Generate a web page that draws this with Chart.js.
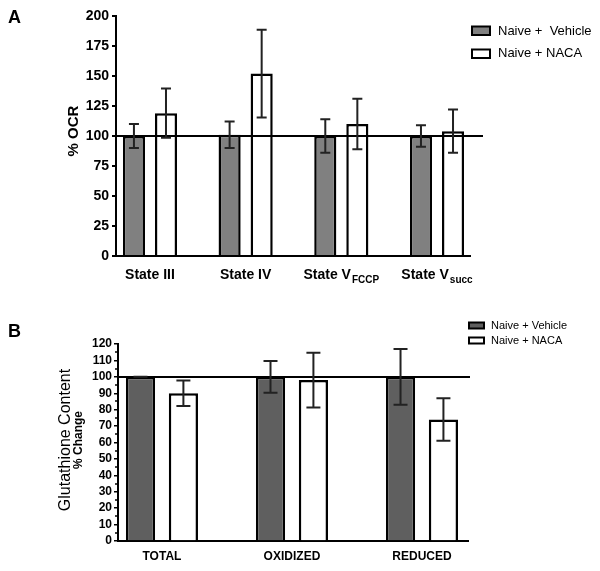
<!DOCTYPE html>
<html><head><meta charset="utf-8">
<script src="https://cdn.jsdelivr.net/npm/chart.js@4"></script>
<style>
html,body{margin:0;padding:0;background:#fff;}
#wrap{position:relative;width:600px;height:571px;background:#fff;}
canvas{position:absolute;left:0;}
#cA{top:0;} #cB{top:290px;}
</style></head><body>
<div id="wrap"><canvas id="cA" width="600" height="290"></canvas><canvas id="cB" width="600" height="281"></canvas></div>
<script>
// ---------- DATA ----------
const seriesNamesA = ['Naive +  Vehicle', 'Naive + NACA'];
const seriesNamesB = ['Naive + Vehicle', 'Naive + NACA'];

const categoriesA = ['State III', 'State IV', 'State V', 'State V'];
const subscriptsA = ['', '', 'FCCP', 'succ'];
const vehicleA = [100, 101, 100, 100];
const vehicleErrA = [10, 11, 14, 9];
const nacaA = [119, 152, 110, 104];
const nacaErrA = [20.5, 36.5, 21, 18];
const yTicksA = [0, 25, 50, 75, 100, 125, 150, 175, 200];

const categoriesB = ['TOTAL', 'OXIDIZED', 'REDUCED'];
const vehicleB = [100, 100, 100];
const vehicleErrB = [0, 9.7, 17];
const nacaB = [90, 98, 74];
const nacaErrB = [7.7, 16.7, 13];
const yTicksB = [0, 10, 20, 30, 40, 50, 60, 70, 80, 90, 100, 110, 120];
const yMinorTicksB = [5, 15, 25, 35, 45, 55, 65, 75, 85, 95, 105, 115];

const refValue = 100;

// ---------- HELPERS ----------
const FONT = '"Liberation Sans", Arial, Helvetica, sans-serif';
const toPts = arr => arr.map((v, i) => ({x: i, y: v}));

function drawRotated(ctx, text, x, y, font) {
  ctx.save();
  ctx.translate(x, y);
  ctx.rotate(-Math.PI / 2);
  ctx.font = font;
  ctx.textAlign = 'center';
  ctx.textBaseline = 'alphabetic';
  ctx.fillStyle = '#000';
  ctx.fillText(text, 0, 0);
  ctx.restore();
}

const customPlugin = {
  id: 'custom',
  afterDatasetsDraw(chart, args, o) {
    const ctx = chart.ctx;
    const ys = chart.scales.y;
    const ca = chart.chartArea;
    ctx.save();
    ctx.strokeStyle = '#000';
    ctx.lineWidth = 2;
    const ry = Math.round(ys.getPixelForValue(refValue));
    ctx.beginPath();
    ctx.moveTo(ca.left, ry);
    ctx.lineTo(o.refEnd, ry);
    ctx.stroke();
    ctx.strokeStyle = '#222';
    ctx.lineWidth = 2;
    chart.data.datasets.forEach((ds, di) => {
      const meta = chart.getDatasetMeta(di);
      meta.data.forEach((el, i) => {
        const v = ds.data[i].y, e = ds.errors[i];
        const yt = ys.getPixelForValue(v + e), yb = ys.getPixelForValue(v - e);
        ctx.beginPath();
        ctx.moveTo(el.x, yt); ctx.lineTo(el.x, yb);
        ctx.moveTo(el.x - o.cap, yt); ctx.lineTo(el.x + o.cap, yt);
        ctx.moveTo(el.x - o.cap, yb); ctx.lineTo(el.x + o.cap, yb);
        ctx.stroke();
      });
    });
    ctx.restore();
  },
  afterDraw(chart, args, o) {
    const ctx = chart.ctx;
    const xs = chart.scales.x, ys = chart.scales.y;
    ctx.save();
    ctx.fillStyle = '#000';
    ctx.font = 'bold 18px ' + FONT;
    ctx.textAlign = 'left';
    ctx.textBaseline = 'alphabetic';
    ctx.fillText(o.letter, o.letterX, o.letterY);
    if (o.minor) {
      ctx.strokeStyle = '#000';
      ctx.lineWidth = 1.5;
      o.minor.forEach(v => {
        const y = Math.round(ys.getPixelForValue(v));
        ctx.beginPath();
        ctx.moveTo(chart.chartArea.left - 3, y);
        ctx.lineTo(chart.chartArea.left, y);
        ctx.stroke();
      });
    }
    o.cats.forEach((c, i) => {
      const cx = xs.getPixelForValue(i);
      const sub = o.subs ? o.subs[i] : '';
      ctx.font = o.catFont;
      const w1 = ctx.measureText(c).width;
      let w2 = 0;
      if (sub) { ctx.font = o.subFont; w2 = ctx.measureText(sub).width + 1; }
      const sx = cx - (w1 + w2) / 2;
      ctx.font = o.catFont;
      ctx.textAlign = 'left';
      ctx.fillText(c, sx, o.catY);
      if (sub) { ctx.font = o.subFont; ctx.fillText(sub, sx + w1 + 1, o.catY + 4); }
    });
    o.titles.forEach(t => drawRotated(ctx, t.text, t.x, t.y, t.font));
    o.legend.forEach(l => {
      ctx.fillStyle = l.fill;
      ctx.fillRect(l.bx, l.by, l.bw, l.bh);
      ctx.strokeStyle = '#000';
      ctx.lineWidth = 2;
      ctx.strokeRect(l.bx, l.by, l.bw, l.bh);
      ctx.fillStyle = '#000';
      ctx.font = l.font;
      ctx.textAlign = 'left';
      ctx.fillText(l.text, l.tx, l.ty);
    });
    ctx.restore();
  }
};

function xScale(n, min, max, h) {
  return {
    type: 'linear', min: min, max: max, offset: false,
    afterBuildTicks(s) { s.ticks = Array.from({length: n}, (_, i) => ({value: i})); },
    grid: {display: false}, ticks: {display: false},
    border: {display: true, color: '#000', width: 2},
    afterFit(s) { s.height = h; }
  };
}

function yScale(ticks, size, width, pad, tlw) {
  return {
    min: ticks[0], max: ticks[ticks.length - 1],
    afterBuildTicks(s) { s.ticks = ticks.map(v => ({value: v})); },
    ticks: {font: {family: FONT, size: size, weight: 'bold'}, color: '#000', padding: pad, autoSkip: false},
    grid: {display: true, drawOnChartArea: false, drawTicks: true, tickLength: 4, color: '#000', lineWidth: tlw},
    border: {display: true, color: '#000', width: 2},
    afterFit(s) { s.width = width; }
  };
}

// ---------- CHART A ----------
new Chart(document.getElementById('cA'), {
  type: 'bar',
  data: {
    datasets: [
      {label: seriesNamesA[0], data: toPts(vehicleA), errors: vehicleErrA, backgroundColor: '#808080', borderColor: '#000', borderWidth: 2.5},
      {label: seriesNamesA[1], data: toPts(nacaA), errors: nacaErrA, backgroundColor: '#ffffff', borderColor: '#000', borderWidth: 2.5}
    ]
  },
  options: {
    responsive: false, animation: false, devicePixelRatio: 1,
    categoryPercentage: 0.67, barPercentage: 0.69,
    layout: {padding: {top: 16, right: 130, left: 0, bottom: 0}},
    scales: {
      x: xScale(categoriesA.length, -0.355, 3.345, 34),
      y: yScale(yTicksA, 14, 116, 3, 2)
    },
    plugins: {
      legend: {display: false}, tooltip: {enabled: false},
      custom: {
        refEnd: 483, cap: 5, letter: 'A', letterX: 8, letterY: 23,
        cats: categoriesA, subs: subscriptsA, catY: 279,
        catFont: 'bold 14px ' + FONT, subFont: 'bold 10px ' + FONT,
        titles: [{text: '% OCR', x: 78, y: 131, font: 'bold 15px ' + FONT}],
        legend: [
          {fill: '#808080', bx: 472, by: 26.5, bw: 18, bh: 8.5, text: seriesNamesA[0], tx: 498, ty: 35, font: '13px ' + FONT},
          {fill: '#ffffff', bx: 472, by: 49.5, bw: 18, bh: 8.5, text: seriesNamesA[1], tx: 498, ty: 57, font: '13px ' + FONT}
        ]
      }
    }
  },
  plugins: [customPlugin]
});

// ---------- CHART B ----------
new Chart(document.getElementById('cB'), {
  type: 'bar',
  data: {
    datasets: [
      {label: seriesNamesB[0], data: toPts(vehicleB), errors: vehicleErrB, backgroundColor: '#5f5f5f', borderColor: '#000', borderWidth: 2.5},
      {label: seriesNamesB[1], data: toPts(nacaB), errors: nacaErrB, backgroundColor: '#ffffff', borderColor: '#000', borderWidth: 2.5}
    ]
  },
  options: {
    responsive: false, animation: false, devicePixelRatio: 1,
    categoryPercentage: 0.66, barPercentage: 0.68,
    layout: {padding: {top: 54, right: 132, left: 0, bottom: 0}},
    scales: {
      x: xScale(categoriesB.length, -0.338, 2.354, 30),
      y: yScale(yTicksB, 12, 118, 2, 1.5)
    },
    plugins: {
      legend: {display: false}, tooltip: {enabled: false},
      custom: {
        refEnd: 470, cap: 7, letter: 'B', letterX: 8, letterY: 47,
        minor: yMinorTicksB,
        cats: categoriesB, subs: null, catY: 270,
        catFont: 'bold 12px ' + FONT, subFont: 'bold 10px ' + FONT,
        titles: [
          {text: 'Glutathione Content', x: 70, y: 150, font: '16px ' + FONT},
          {text: '% Change', x: 81.5, y: 150, font: 'bold 12px ' + FONT}
        ],
        legend: [
          {fill: '#5f5f5f', bx: 469, by: 32.5, bw: 15, bh: 6, text: seriesNamesB[0], tx: 491, ty: 39, font: '11px ' + FONT},
          {fill: '#ffffff', bx: 469, by: 47.5, bw: 15, bh: 6, text: seriesNamesB[1], tx: 491, ty: 54, font: '11px ' + FONT}
        ]
      }
    }
  },
  plugins: [customPlugin]
});
</script>
</body></html>
